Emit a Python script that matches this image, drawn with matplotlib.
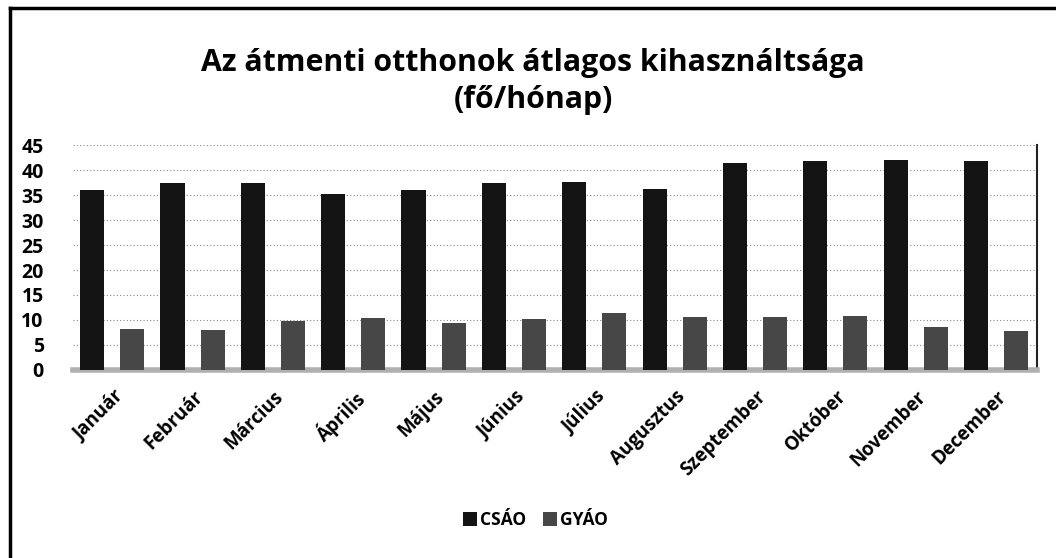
import matplotlib.pyplot as plt
import numpy as np
from matplotlib.lines import Line2D

plt.rcParams['font.family'] = ['Open Sans', 'DejaVu Sans']

months = ['Január', 'Február', 'Március', 'Április', 'Május', 'Június',
          'Július', 'Augusztus', 'Szeptember', 'Október', 'November', 'December']
csao = [36.0, 37.4, 37.4, 35.2, 36.0, 37.5, 37.7, 36.2, 41.4, 41.8, 42.1, 41.9]
gyao = [8.2, 8.0, 9.7, 10.4, 9.4, 10.2, 11.4, 10.6, 10.6, 10.8, 8.5, 7.7]
series_names = ['CSÁO', 'GYÁO']
yticks = [0, 5, 10, 15, 20, 25, 30, 35, 40, 45]

fig = plt.figure(figsize=(10.56, 5.58), dpi=100)
ax = fig.add_axes([0.069, 0.337, 0.913, 0.403])

x = np.arange(len(months))
w = 0.3
ax.bar(x - 0.26, csao, width=w, color='#141414', label=series_names[0], zorder=3)
ax.bar(x + 0.24, gyao, width=w, color='#474747', label=series_names[1], zorder=3)

ax.set_xlim(-0.5, len(months) - 0.5)
ax.set_ylim(0, 45)
ax.set_yticks(yticks)
ax.set_yticklabels([str(t) for t in yticks], fontsize=14, fontweight='bold')
ax.yaxis.grid(True, linestyle=(0, (1, 2)), color='#888888', linewidth=0.8, zorder=0)
ax.tick_params(axis='both', length=0)
ax.tick_params(axis='y', pad=21)

ax.set_xticks(x)
ax.set_xticklabels(months, rotation=45, ha='right', rotation_mode='anchor',
                   fontsize=13.5, fontweight='bold')
ax.tick_params(axis='x', pad=12)

for s in ['top', 'left']:
    ax.spines[s].set_visible(False)
ax.spines['bottom'].set_color('#b0b0b0')
ax.spines['bottom'].set_linewidth(4)
ax.spines['right'].set_color('#222222')
ax.spines['right'].set_linewidth(1.5)

fig.text(0.505, 0.887, 'Az átmenti otthonok átlagos kihasználtsága',
         ha='center', va='center', fontsize=21.8, fontweight='bold')
fig.text(0.505, 0.82, '(fő/hónap)', ha='center', va='center',
         fontsize=21.8, fontweight='bold')

fig.legend(loc='center', bbox_to_anchor=(0.507, 0.068), ncol=2, frameon=False,
           prop={'weight': 'bold', 'size': 12.5}, handlelength=0.8, handleheight=0.8,
           handletextpad=0.15, columnspacing=1.0)

# chart frame (top and left edges visible in the scan)
fig.add_artist(Line2D([0.009, 1.0], [0.986, 0.986], color='black', linewidth=2.5,
                      transform=fig.transFigure))
fig.add_artist(Line2D([0.009, 0.009], [0.0, 0.986], color='black', linewidth=2.5,
                      transform=fig.transFigure))

fig.savefig('out.png', dpi=100)
